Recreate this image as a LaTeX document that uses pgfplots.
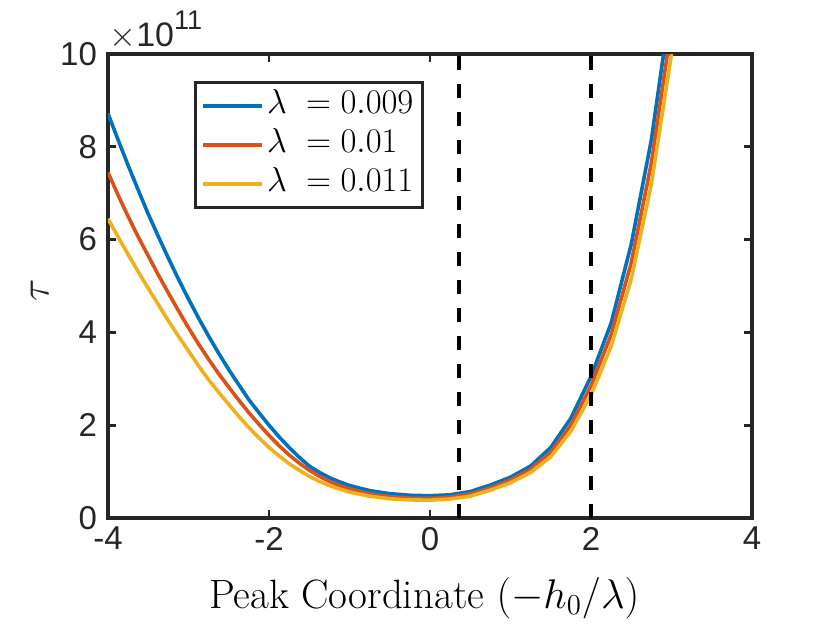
\documentclass[border=0pt]{standalone}
\usepackage{fontspec}
\usepackage{pgfplots}
\pgfplotsset{compat=1.18}
\newfontfamily\hel{Liberation Sans}
\definecolor{mblue}{RGB}{0,114,189}
\definecolor{mred}{RGB}{217,83,25}
\definecolor{myel}{RGB}{237,177,32}
\definecolor{axgray}{RGB}{38,38,38}
\begin{document}
\begin{tikzpicture}
\path[use as bounding box] (-54pt,-52.5pt) rectangle (361pt,259pt);
\begin{axis}[
  at={(0,0)}, anchor=south west,
  scale only axis, width=322pt, height=232pt,
  xmin=-4, xmax=4, ymin=0, ymax=10,
  xtick={-4,-2,0,2,4}, xticklabels={-4,-2,0,2,4},
  ytick={0,2,4,6,8,10}, yticklabels={0,2,4,6,8,10},
  tick align=inside, major tick length=4pt,
  tick style={axgray, line width=1.4pt},
  axis line style={axgray, line width=1.6pt},
  ticklabel style={font=\hel\fontsize{16.5}{18}\selectfont, text=axgray},
  xticklabel style={yshift=-1pt},
  yticklabel style={xshift=-2pt},
  xlabel={Peak Coordinate $(-h_0/\lambda)$},
  xlabel style={font=\fontsize{20.5}{24}\selectfont, at={(axis description cs:0.491,-0.173)}, anchor=center},
  ylabel={$\tau$},
  ylabel style={font=\fontsize{20}{22}\selectfont, at={(axis description cs:-0.106,0.49)}, anchor=center, text=axgray},
  legend style={at={(0.1335,0.942)}, anchor=north west, draw=axgray, line width=1.6pt,
     font=\fontsize{15.9}{18}\selectfont, inner xsep=3pt, inner ysep=2pt,
     nodes={inner sep=1.5pt, text height=12pt, text depth=4.5pt}},
  legend cell align=left,
  legend image code/.code={\draw[#1, line width=1.8pt] (0pt,0pt) -- (29.5pt,0pt);},
  every axis plot/.append style={line width=1.8pt},
  clip mode=individual,
]
\addplot[mblue] coordinates {
(-4,8.72) (-3.875,8.15) (-3.75,7.6) (-3.625,7.07) (-3.5,6.55) (-3.375,6.07) (-3.25,5.6) (-3.125,5.15)
(-3,4.72) (-2.875,4.31) (-2.75,3.92) (-2.625,3.55) (-2.5,3.2) (-2.375,2.87) (-2.25,2.55) (-2.125,2.27)
(-2,2.0) (-1.875,1.75) (-1.75,1.52) (-1.625,1.31) (-1.5,1.12) (-1.375,0.985) (-1.25,0.87) (-1.125,0.78)
(-1,0.70) (-0.75,0.59) (-0.5,0.525) (-0.25,0.49)
(0,0.48) (0.25,0.50) (0.5,0.57) (0.75,0.71) (1,0.88) (1.25,1.12) (1.5,1.52) (1.75,2.15)
(2,3.05) (2.25,4.2) (2.5,5.9) (2.75,8.15) (3,11.2)};
\addlegendentry{$\lambda\ = 0.009$}
\addplot[mred] coordinates {
(-4,7.45) (-3.875,6.96) (-3.75,6.5) (-3.625,6.06) (-3.5,5.65) (-3.375,5.24) (-3.25,4.85) (-3.125,4.47)
(-3,4.1) (-2.875,3.75) (-2.75,3.42) (-2.625,3.11) (-2.5,2.82) (-2.375,2.54) (-2.25,2.27) (-2.125,2.02)
(-2,1.78) (-1.875,1.56) (-1.75,1.36) (-1.625,1.185) (-1.5,1.03) (-1.375,0.9) (-1.25,0.79) (-1.125,0.70)
(-1,0.63) (-0.75,0.52) (-0.5,0.46) (-0.25,0.43)
(0,0.425) (0.25,0.45) (0.5,0.52) (0.75,0.65) (1,0.82) (1.25,1.05) (1.5,1.42) (1.75,2.0)
(2,2.85) (2.25,3.95) (2.5,5.5) (2.75,7.65) (3,10.6)};
\addlegendentry{$\lambda\ = 0.01$}
\addplot[myel] coordinates {
(-4,6.45) (-3.875,6.06) (-3.75,5.68) (-3.625,5.31) (-3.5,4.95) (-3.375,4.6) (-3.25,4.25) (-3.125,3.92)
(-3,3.6) (-2.875,3.28) (-2.75,2.98) (-2.625,2.71) (-2.5,2.45) (-2.375,2.19) (-2.25,1.95) (-2.125,1.73)
(-2,1.52) (-1.875,1.34) (-1.75,1.17) (-1.625,1.03) (-1.5,0.9) (-1.375,0.79) (-1.25,0.7) (-1.125,0.625)
(-1,0.56) (-0.75,0.47) (-0.5,0.415) (-0.25,0.39)
(0,0.385) (0.25,0.41) (0.5,0.47) (0.75,0.6) (1,0.76) (1.25,0.98) (1.5,1.32) (1.75,1.87)
(2,2.65) (2.25,3.7) (2.5,5.15) (2.75,7.2) (3,10.0)};
\addlegendentry{$\lambda\ = 0.011$}
\addplot[black, line width=1.8pt, dash pattern=on 7pt off 7pt, forget plot] coordinates {(0.36,0) (0.36,10)};
\addplot[black, line width=1.8pt, dash pattern=on 7pt off 7pt, forget plot] coordinates {(2,0) (2,10)};
\node[anchor=base west, font=\hel\fontsize{17}{18}\selectfont, text=axgray, inner sep=0pt]
  at (rel axis cs:0,1) [xshift=0.5pt, yshift=4pt] {$\times$10\raisebox{0.5em}{\fontsize{13.5}{14}\selectfont 11}};
\end{axis}
\end{tikzpicture}
\end{document}
